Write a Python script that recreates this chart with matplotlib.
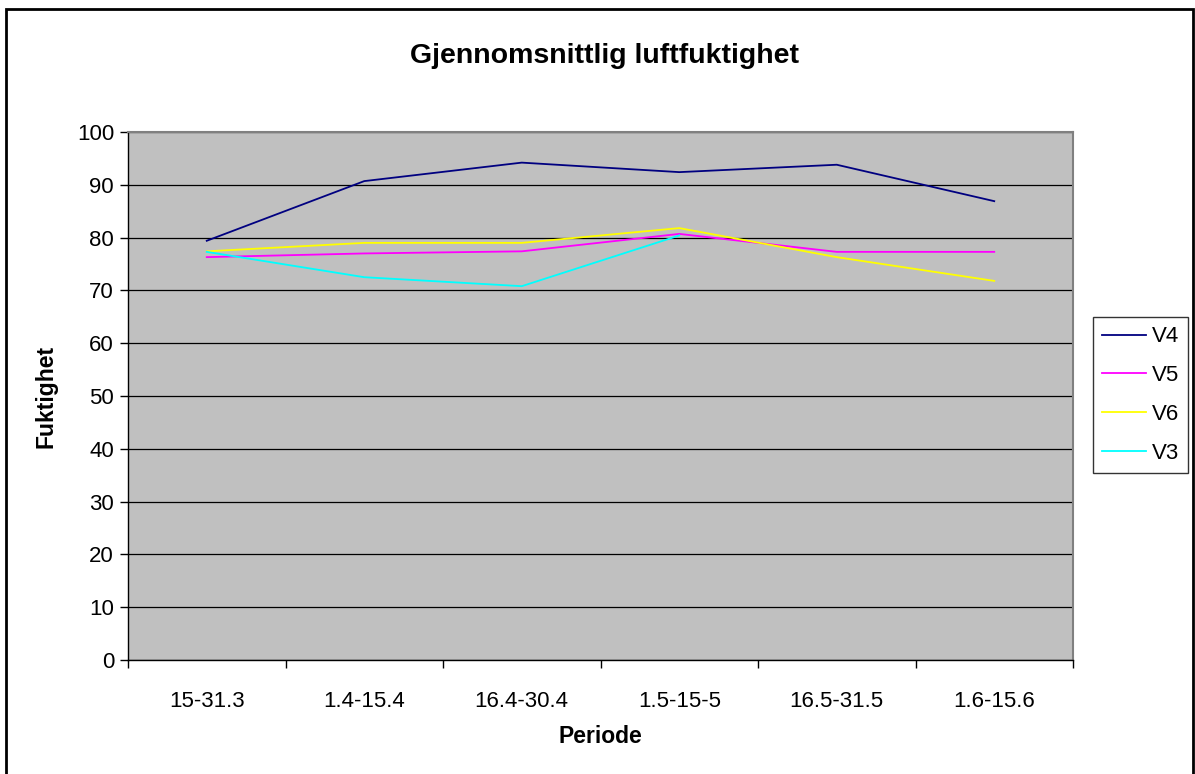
import numpy as np
import matplotlib.pyplot as plt
import matplotlib.patches as mpatches

# Data
periods = ["15-31.3", "1.4-15.4", "16.4-30.4", "1.5-15-5", "16.5-31.5", "1.6-15.6"]
v4 = [79.4, 90.7, 94.2, 92.4, 93.8, 86.9]
v5 = [76.3, 77.0, 77.4, 80.7, 77.3, 77.3]
v6 = [77.4, 79.0, 79.0, 81.8, 76.3, 71.8]
v3 = [77.3, 72.5, 70.8, 80.4]

series = [("V4", v4, "#000080"), ("V5", v5, "#FF00FF"),
          ("V6", v6, "#FFFF00"), ("V3", v3, "#00FFFF")]

plt.rcParams['font.family'] = ['Liberation Sans', 'DejaVu Sans']

fig = plt.figure(figsize=(11.95, 7.74), dpi=100)
fig.set_facecolor('white')

# outer chart border
fig.patches.append(mpatches.Rectangle((6 / 1195, -0.01), 1187 / 1195, 1 - 9 / 774 + 0.01,
                                      transform=fig.transFigure, fill=False,
                                      edgecolor='black', linewidth=2))

ax = fig.add_axes([128 / 1195, 1 - 660 / 774, (1073 - 128) / 1195, (660 - 132) / 774])
ax.set_facecolor('#C0C0C0')

x = np.arange(len(periods)) + 0.5
for name, vals, color in series:
    ax.plot(x[:len(vals)], vals, color=color, linewidth=1.3, label=name)

ax.set_xlim(0, len(periods))
ax.set_ylim(0, 100)
ax.set_yticks(np.arange(0, 101, 10))
ax.yaxis.grid(True, color='black', linewidth=0.9)
ax.set_axisbelow(True)

ax.set_xticks(np.arange(0, len(periods) + 1))
ax.set_xticklabels([])
ax.set_xticks(x, minor=True)
ax.set_xticklabels(periods, minor=True)
ax.tick_params(axis='x', which='minor', length=0, pad=22, labelsize=16)
ax.tick_params(axis='x', which='major', length=6, direction='out', width=1)
ax.tick_params(axis='y', length=6, direction='out', width=1, labelsize=16, pad=4)

for s in ['top', 'right']:
    ax.spines[s].set_color('#808080')
    ax.spines[s].set_linewidth(1.5)
for s in ['left', 'bottom']:
    ax.spines[s].set_color('black')
    ax.spines[s].set_linewidth(1)

ax.set_xlabel("Periode", fontsize=16.5, fontweight='bold', labelpad=10)
ax.set_ylabel("Fuktighet", fontsize=16.5, fontweight='bold', labelpad=14)
fig.text(604 / 1195, 1 - 56 / 774, "Gjennomsnittlig luftfuktighet",
         ha='center', va='center', fontsize=20.5, fontweight='bold')

leg = ax.legend(loc='center left', bbox_to_anchor=(1093 / 1195, 1 - 395 / 774),
                bbox_transform=fig.transFigure, fontsize=16, frameon=True,
                fancybox=False, handlelength=2.0, handletextpad=0.25,
                borderpad=0.4, labelspacing=0.8, borderaxespad=0)
leg.get_frame().set_edgecolor('black')
leg.get_frame().set_linewidth(1)

plt.savefig("out.png", dpi=100)
